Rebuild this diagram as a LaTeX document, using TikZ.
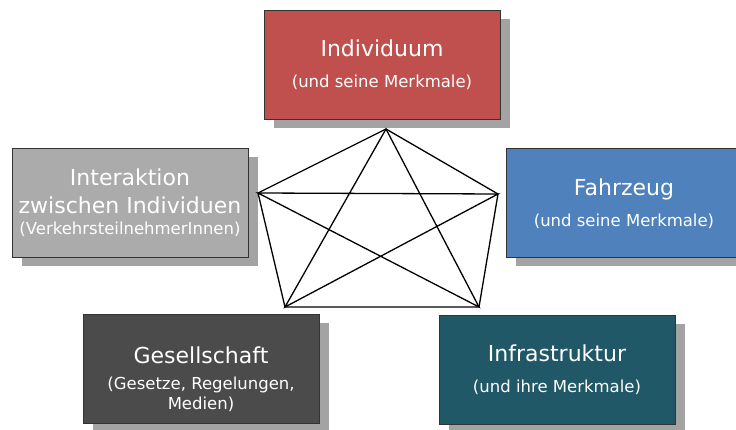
\documentclass[tikz,border=0pt]{standalone}
\usepackage{fontspec}
\setmainfont{DejaVu Sans}
\usetikzlibrary{shadows}
\definecolor{indred}{HTML}{C0504D}
\definecolor{fzblue}{HTML}{4F81BD}
\definecolor{infteal}{HTML}{215867}
\definecolor{gesgray}{HTML}{4B4B4B}
\definecolor{intgray}{HTML}{ABABAB}
\definecolor{shdgray}{HTML}{A3A3A3}
\newcommand{\ttl}{\fontsize{22}{28}\selectfont}
\newcommand{\sbt}{\fontsize{16.5}{20}\selectfont}
\tikzset{
  box/.style  = {draw=black!80, line width=0.8pt, rectangle, align=center,
                 minimum width=236pt, minimum height=109pt, inner sep=0pt,
                 text=white!92, font=\ttl,
                 drop shadow={shadow xshift=10pt, shadow yshift=-9pt,
                              fill=shdgray, opacity=1}},
  edge/.style = {line width=1.3pt, black},
}

\begin{document}
\begin{tikzpicture}[x=1pt, y=-1pt]
  \useasboundingbox (0,0) rectangle (736,430);
  % boxes
  \node[box, fill=indred]  (ind)   at (382,64.5)  {Individuum\\[3pt]{\sbt (und seine Merkmale)}};
  \node[box, fill=intgray] (inter) at (130,203)   {Interaktion\\zwischen Individuen\\[-7pt]{\sbt (VerkehrsteilnehmerInnen)}};
  \node[box, fill=fzblue]  (fahr)  at (624,202.5) {\rule{0pt}{20pt}Fahrzeug\\[3pt]{\sbt (und seine Merkmale)}};
  \node[box, fill=gesgray] (ges)   at (201,368.5) {\rule{0pt}{38pt}Gesellschaft\\[-2pt]{\sbt (Gesetze, Regelungen,}\\[-8pt]{\sbt Medien)}};
  \node[box, fill=infteal] (infra) at (557,369.5) {\rule{0pt}{18pt}Infrastruktur\\[3pt]{\sbt (und ihre Merkmale)}};
  % pentagon corners
  \coordinate (pt) at (386,129);
  \coordinate (pl) at (258,193);
  \coordinate (pr) at (498,194);
  \coordinate (pbl) at (285,307);
  \coordinate (pbr) at (479,307);
  % all connections
  \draw[edge] (pt) -- (pr) -- (pbr) -- (pbl) -- (pl) -- cycle;
  \draw[edge] (pt) -- (pbl) -- (pr) -- (pl) -- (pbr) -- cycle;
\end{tikzpicture}
\end{document}
